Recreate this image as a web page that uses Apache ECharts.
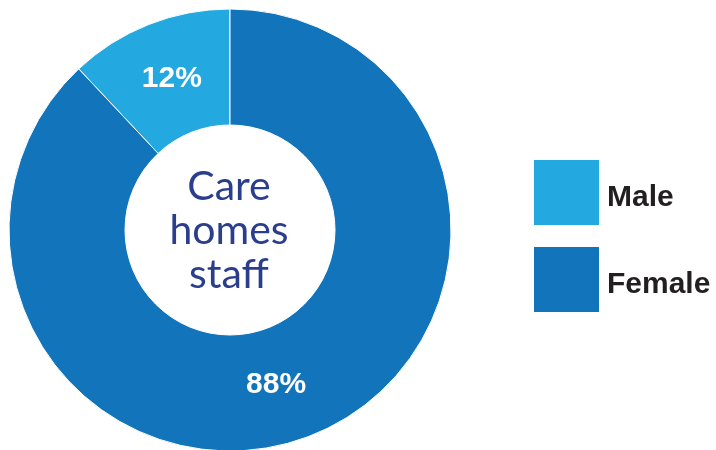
<!DOCTYPE html>
<html>
<head>
<meta charset="utf-8">
<script src="https://cdn.jsdelivr.net/npm/echarts@6/dist/echarts.min.js"></script>
<style>html,body{margin:0;padding:0;background:#fff}#c{width:716px;height:450px}</style>
</head>
<body>
<div id="c"></div>
<script>
var categories = ['Male', 'Female'];
var values = [12, 88];
var colors = ['#24A8E0', '#1275BC'];
var centerLabel = 'Care\nhomes\nstaff';

var chart = echarts.init(document.getElementById('c'), null, {renderer: 'canvas'});
chart.setOption({
  animation: false,
  color: colors,
  legend: {
    orient: 'vertical',
    left: 532,
    top: 158,
    padding: 0,
    itemWidth: 67,
    itemHeight: 67,
    itemGap: 18,
    icon: 'rect',
    selectedMode: false,
    data: categories,
    formatter: function (n) { return '{t|' + n + '}'; },
    textStyle: {
      rich: {
        t: {
          fontFamily: 'Liberation Sans, Arial, sans-serif',
          fontWeight: 'bold',
          fontSize: 30,
          color: '#231F20',
          padding: [10, 0, 0, 2]
        }
      }
    }
  },
  graphic: [{
    type: 'text',
    x: 229,
    y: 231,
    silent: true,
    style: {
      text: centerLabel,
      textAlign: 'center',
      textVerticalAlign: 'middle',
      fontFamily: 'Lato, sans-serif',
      fontSize: 41,
      lineHeight: 44,
      fill: '#2B3E8C'
    }
  }],
  series: [{
    type: 'pie',
    center: [230, 230],
    radius: [105, 221],
    startAngle: 90,
    clockwise: false,
    silent: true,
    itemStyle: { borderColor: '#ffffff', borderWidth: 1 },
    label: {
      show: true,
      position: 'inside',
      formatter: '{c}%',
      color: '#ffffff',
      fontFamily: 'Liberation Sans, Arial, sans-serif',
      fontWeight: 'bold',
      fontSize: 30
    },
    labelLine: { show: false },
    data: categories.map(function (n, i) {
      var d = { name: n, value: values[i] };
      if (i === 0) d.label = { offset: [3, 3] };
      if (i === 1) d.label = { offset: [-15, 0] };
      return d;
    })
  }]
});
</script>
</body>
</html>
